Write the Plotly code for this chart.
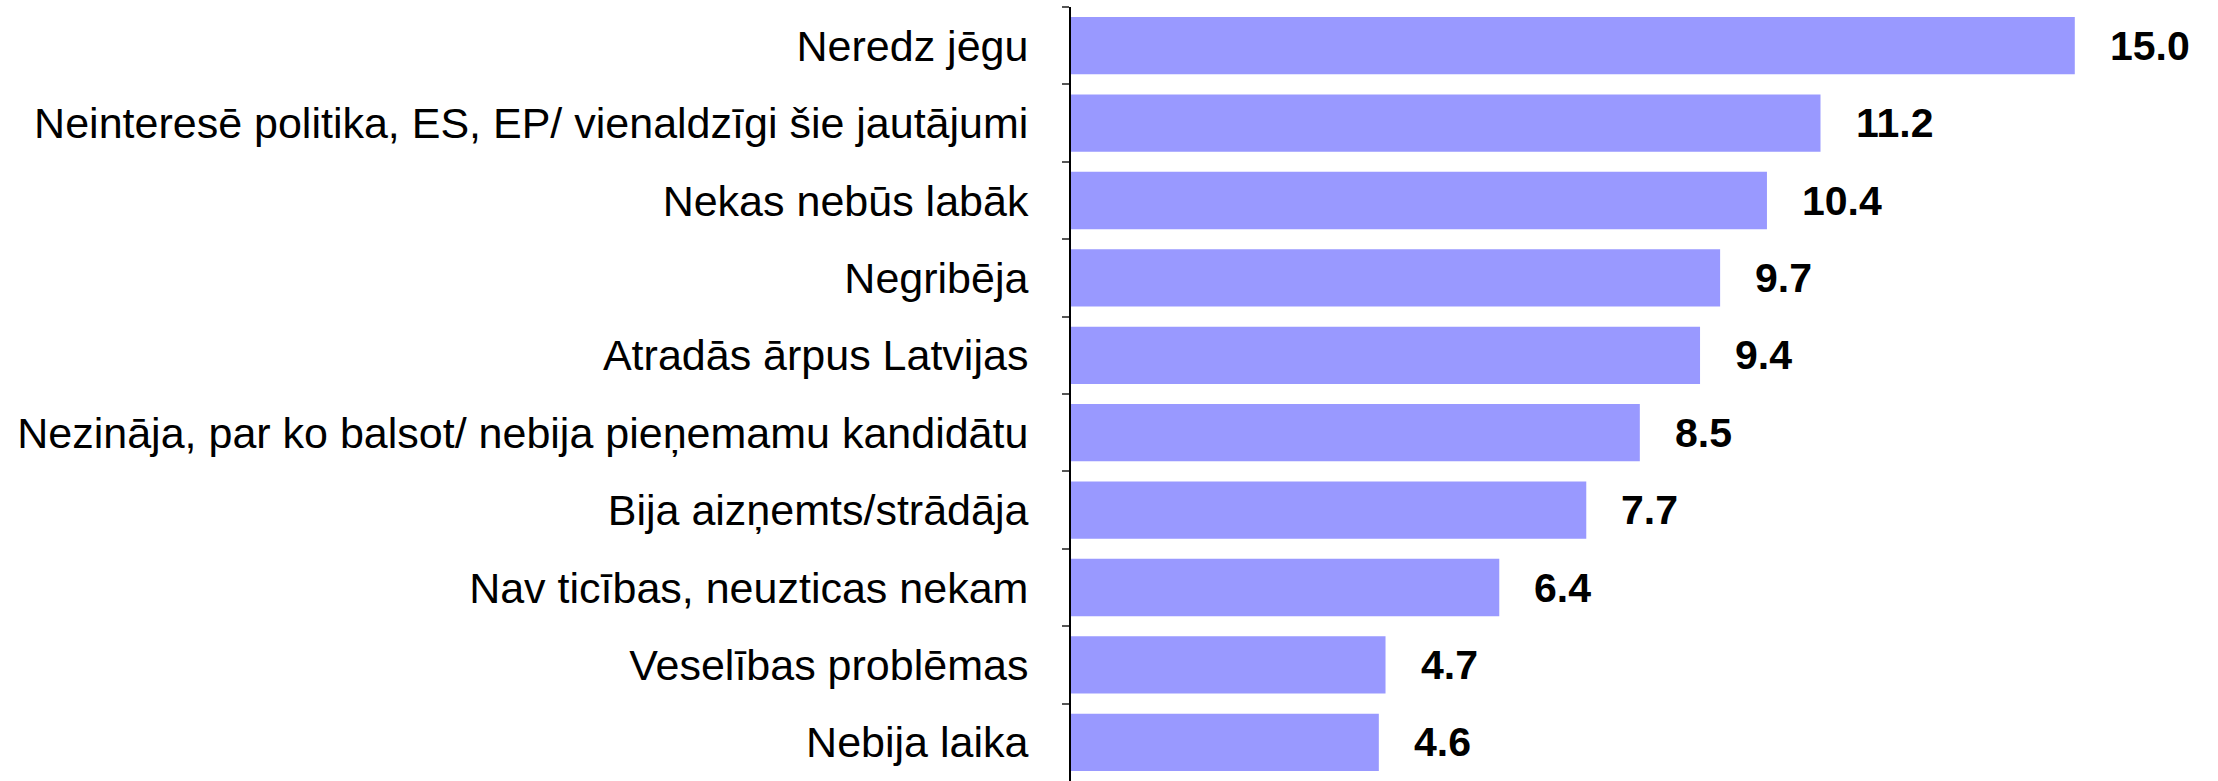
import plotly.graph_objects as go

categories = [
    "Neredz jēgu",
    "Neinteresē politika, ES, EP/ vienaldzīgi šie jautājumi",
    "Nekas nebūs labāk",
    "Negribēja",
    "Atradās ārpus Latvijas",
    "Nezināja, par ko balsot/ nebija pieņemamu kandidātu",
    "Bija aizņemts/strādāja",
    "Nav ticības, neuzticas nekam",
    "Veselības problēmas",
    "Nebija laika",
]
values = [15.0, 11.2, 10.4, 9.7, 9.4, 8.5, 7.7, 6.4, 4.7, 4.6]
value_labels = [f"{v:.1f}" for v in values]

fig = go.Figure()
fig.add_trace(go.Bar(
    x=values, y=categories, orientation="h",
    marker=dict(color="#9999FF", line=dict(width=0)),
    hoverinfo="skip",
))

for c, v, t in zip(categories, values, value_labels):
    fig.add_annotation(
        x=v, y=c, text=f"<b>{t}</b>", showarrow=False,
        xanchor="left", yanchor="middle", xshift=33,
        font=dict(family="Liberation Sans, Arial, sans-serif", size=41, color="black"),
    )

fig.update_layout(
    width=2218, height=781,
    margin=dict(l=1071, r=0, t=7, b=0),
    paper_bgcolor="white", plot_bgcolor="white",
    bargap=0.26,
    showlegend=False,
    font=dict(family="Liberation Sans, Arial, sans-serif", size=43, color="black"),
)
fig.update_xaxes(range=[0, 17.14], visible=False, showgrid=False, zeroline=False)
fig.update_yaxes(
    autorange="reversed", showline=True, linecolor="black", linewidth=2,
    ticks="outside", tickson="boundaries", ticklen=7, tickcolor="#555555", tickwidth=2,
    ticklabelstandoff=32,
    showgrid=False, zeroline=False,
    tickfont=dict(family="Liberation Sans, Arial, sans-serif", size=43, color="black"),
)

fig.write_html("out.html")
